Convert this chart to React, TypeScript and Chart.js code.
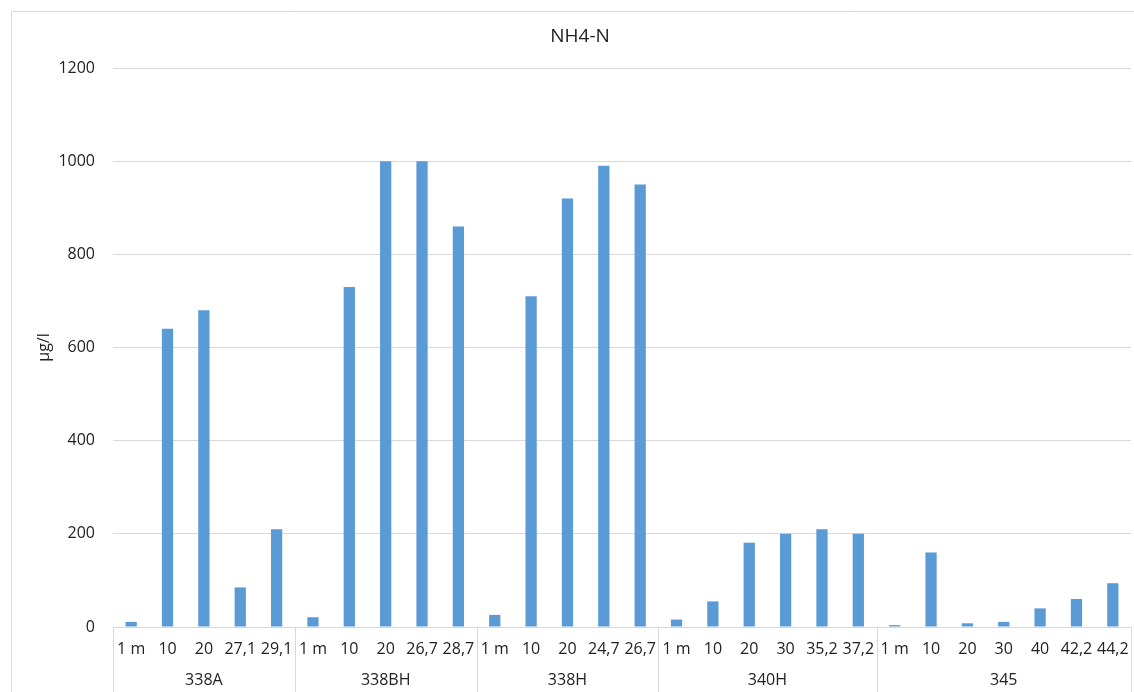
import React, { useEffect, useRef } from "react";
import { Chart, registerables } from "chart.js";

Chart.register(...registerables);

const chartTitle = "NH4-N";
const yAxisTitle = "µg/l";
const groups = ["338A", "338BH", "338H", "340H", "345"];
const groupSubLabels: string[][] = [
  ["1 m", "10", "20", "27,1", "29,1"],
  ["1 m", "10", "20", "26,7", "28,7"],
  ["1 m", "10", "20", "24,7", "26,7"],
  ["1 m", "10", "20", "30", "35,2", "37,2"],
  ["1 m", "10", "20", "30", "40", "42,2", "44,2"],
];
const groupValues: number[][] = [
  [11, 640, 680, 85, 210],
  [21, 730, 1000, 1000, 860],
  [26, 710, 920, 990, 950],
  [16, 55, 181, 200, 210, 200],
  [4, 160, 8, 11, 40, 60, 94],
];
const yMin = 0;
const yMax = 1200;
const yStep = 200;

const FONT = "'Open Sans', 'DejaVu Sans', sans-serif";
const TEXT = "#222222";
const LINE = "#d9d9d9";
const BAR = "#5b9bd5";

export default function App() {
  const ref = useRef<HTMLCanvasElement | null>(null);

  useEffect(() => {
    document.body.style.margin = "0";
    const labels = groupSubLabels.flat();
    const values = groupValues.flat();

    const decor = {
      id: "decor",
      beforeDraw(chart: any) {
        const ctx = chart.ctx;
        ctx.save();
        ctx.strokeStyle = LINE;
        ctx.lineWidth = 1;
        ctx.beginPath();
        ctx.moveTo(11.5, chart.height);
        ctx.lineTo(11.5, 11.5);
        ctx.lineTo(chart.width, 11.5);
        ctx.stroke();
        ctx.restore();
      },
      afterDraw(chart: any) {
        const ctx = chart.ctx;
        const xs = chart.scales.x;
        const area = chart.chartArea;
        const half = (xs.getPixelForValue(1) - xs.getPixelForValue(0)) / 2;
        ctx.save();
        // title
        ctx.fillStyle = TEXT;
        ctx.font = `19px ${FONT}`;
        ctx.textAlign = "center";
        ctx.textBaseline = "middle";
        ctx.fillText(chartTitle, 580, 37);
        // y title
        ctx.font = `16px ${FONT}`;
        ctx.save();
        ctx.translate(44, (area.top + area.bottom) / 2);
        ctx.rotate(-Math.PI / 2);
        ctx.fillText(yAxisTitle, 0, 0);
        ctx.restore();
        // sub labels
        labels.forEach((l, i) => {
          ctx.fillText(l, xs.getPixelForValue(i), 649);
        });
        // group separators + labels
        ctx.strokeStyle = LINE;
        ctx.lineWidth = 1;
        let idx = 0;
        const bounds: number[] = [];
        groups.forEach((g, gi) => {
          const n = groupSubLabels[gi].length;
          const x0 = xs.getPixelForValue(idx) - half;
          const x1 = xs.getPixelForValue(idx + n - 1) + half;
          bounds.push(x0);
          if (gi === groups.length - 1) bounds.push(x1);
          ctx.fillText(g, (x0 + x1) / 2, 680);
          idx += n;
        });
        ctx.beginPath();
        bounds.forEach((b) => {
          const bx = Math.round(b) + 0.5;
          ctx.moveTo(bx, area.bottom);
          ctx.lineTo(bx, chart.height);
        });
        ctx.stroke();
        ctx.restore();
      },
    };

    const chart = new Chart(ref.current as HTMLCanvasElement, {
      type: "bar",
      data: {
        labels,
        datasets: [
          {
            label: chartTitle,
            data: values,
            backgroundColor: BAR,
            borderWidth: 0,
            categoryPercentage: 1,
            barPercentage: 0.31,
          },
        ],
      },
      options: {
        responsive: false,
        animation: false,
        layout: { padding: { top: 68, right: 3, bottom: 0, left: 0 } },
        plugins: {
          legend: { display: false },
          title: { display: false },
          tooltip: { enabled: false },
        },
        scales: {
          x: {
            afterFit(scale: any) {
              scale.height = 65;
            },
            grid: { display: false, drawTicks: false },
            border: { display: true, color: LINE, width: 1 },
            ticks: { display: false },
          },
          y: {
            min: yMin,
            max: yMax,
            afterFit(scale: any) {
              scale.width = 113;
            },
            grid: { color: LINE, drawTicks: false },
            border: { display: false },
            ticks: {
              stepSize: yStep,
              padding: 18,
              color: TEXT,
              font: { family: FONT, size: 16 },
              callback: (v: any) => String(v),
            },
          },
        },
      },
      plugins: [decor],
    });
    return () => chart.destroy();
  }, []);

  return (
    <div style={{ position: "fixed", left: 0, top: 0, width: 1134, height: 692, background: "#fff" }}>
      <canvas ref={ref} width={1134} height={692} style={{ width: 1134, height: 692 }} />
    </div>
  );
}
